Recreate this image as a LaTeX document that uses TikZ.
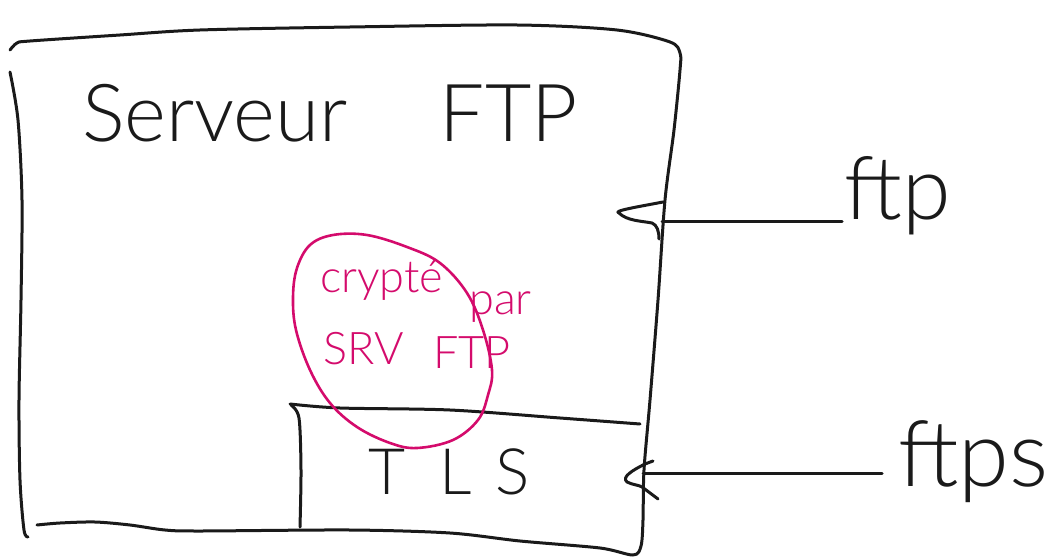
\documentclass[tikz,border=0pt]{standalone}
\usepackage{fontspec}
\setmainfont{Lato Light}
\usetikzlibrary{calc}
\definecolor{ink}{HTML}{1A1A1A}
\definecolor{marker}{HTML}{D40B6C}

\begin{document}
\begin{tikzpicture}[x=1pt,y=-1pt,
  pen/.style={draw=ink, line width=3pt, line cap=round, line join=round},
  pinkpen/.style={draw=marker, line width=2.6pt, line cap=round, line join=round},
  hand/.style={text=ink, inner sep=0pt, anchor=base west},
  note/.style={text=marker, inner sep=0pt, anchor=base west, font=\fontsize{45}{52}\selectfont},
]
\useasboundingbox (0,0) rectangle (1049,559);

% server box: top, right and bottom in one stroke, left side apart
\draw[pen] plot[smooth, tension=0.5] coordinates {
  (10,50) (17,43) (30,41) (120,35) (200,30) (350,27) (517,25) (617,30)
  (670,42) (680,53) (680,70) (674,130) (665,200) (658,300) (650,400)
  (644,470) (643,520) (641,546) (633,555) (600,548) (520,541) (450,533)
  (350,530) (200,531) (165,530) (130,525) (95,522) (60,523) (37,525)};
\draw[pen] plot[smooth, tension=0.5] coordinates {
  (10,72) (18,120) (22,200) (21,300) (19,400) (20,480) (24,530) (28,537)};

% TLS layer
\draw[pen] plot[smooth, tension=0.5] coordinates {
  (290,404) (340,408) (450,410) (560,418) (640,424)};
\draw[pen] plot[smooth, tension=0.5] coordinates {
  (291,405) (299,418) (301,470) (300,527)};

% labels
\node[hand, font=\fontsize{80}{90}\selectfont] (title) at (82,142) {Serveur\hspace{92pt}FTP\hspace{-4pt}};
\node[hand, font=\fontsize{64}{72}\selectfont] (tls) at (368,494) {T\hspace{34pt}L\hspace{24pt}S};
\node[hand, font=\fontsize{88}{96}\selectfont] (ftp) at (844,219) {ftp};
\node[hand, font=\fontsize{92}{100}\selectfont] (ftps) at (898,486) {ftps};

% note circled in pink
\draw[pinkpen] plot[smooth cycle, tension=0.6] coordinates {
  (297,268) (310,245) (333,235) (367,235) (407,247) (440,263) (467,293)
  (483,330) (492,370) (488,395) (478,420) (453,440) (417,448) (390,443)
  (357,427) (330,403) (310,370) (296,330) (293,297)};
\node[note] (crypt) at (320,292) {crypté\hspace{26pt}\raisebox{-22pt}{par}};
\node[note] (srv) at (323,364) {SRV\hspace{30pt}\raisebox{-4pt}{FTP}};

% plain and secured connections into the server
\coordinate (ftpin) at (662,221);
\coordinate (ftpsin) at (643,473);
\draw[pen] ($(ftpin -| ftp.west)+(-2,0)$) -- (ftpin);
\draw[pen] ($(ftpsin -| ftps.west)+(-16,0)$) -- (ftpsin);

% hand-drawn arrow heads
\draw[pen] ($(ftpin)+(1,-19)$) .. controls ($(ftpin)+(-25,-14)$) and ($(ftpin)+(-50,-10)$) .. ($(ftpin)+(-43,-8)$)
  .. controls ($(ftpin)+(-35,0)$) and ($(ftpin)+(-20,0)$) .. ($(ftpin)+(-10,2)$)
  .. controls ($(ftpin)+(-5,4)$) and ($(ftpin)+(-3,10)$) .. ($(ftpin)+(-3,18)$);
\draw[pen] ($(ftpsin)+(10,-12)$) -- ($(ftpsin)+(2,-9)$)
  .. controls ($(ftpsin)+(-10,-3)$) and ($(ftpsin)+(-22,4)$) .. ($(ftpsin)+(-16,9)$)
  .. controls ($(ftpsin)+(-10,12)$) and ($(ftpsin)+(-4,12)$) .. ($(ftpsin)+(-1,14)$)
  -- ($(ftpsin)+(15,26)$);
\end{tikzpicture}
\end{document}
